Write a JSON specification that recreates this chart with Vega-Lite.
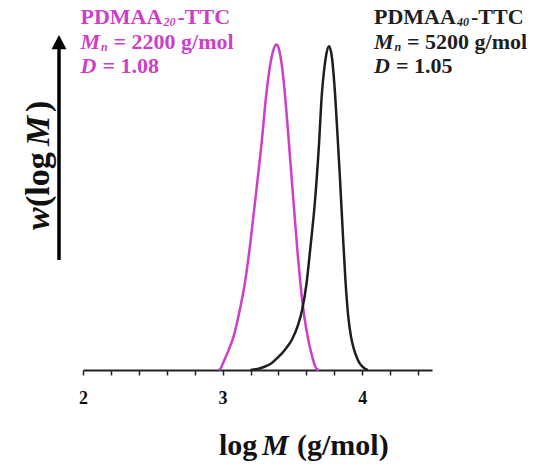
{
  "$schema": "https://vega.github.io/schema/vega-lite/v6.json",
  "autosize": {"type": "none"},
  "padding": {"left": 83, "top": 12, "right": 111, "bottom": 96},
  "width": 349,
  "height": 358,
  "background": "white",
  "config": {"view": {"stroke": null}, "axisX": {"labelOverlap": false}},
  "datasets": {
    "curves": [
      {"series": "PDMAA20", "logM": 2.975, "w": 0},
      {"series": "PDMAA20", "logM": 2.99, "w": 0.008},
      {"series": "PDMAA20", "logM": 3.00, "w": 0.018},
      {"series": "PDMAA20", "logM": 3.04, "w": 0.058},
      {"series": "PDMAA20", "logM": 3.08, "w": 0.105},
      {"series": "PDMAA20", "logM": 3.12, "w": 0.178},
      {"series": "PDMAA20", "logM": 3.16, "w": 0.268},
      {"series": "PDMAA20", "logM": 3.20, "w": 0.395},
      {"series": "PDMAA20", "logM": 3.24, "w": 0.545},
      {"series": "PDMAA20", "logM": 3.28, "w": 0.700},
      {"series": "PDMAA20", "logM": 3.31, "w": 0.835},
      {"series": "PDMAA20", "logM": 3.34, "w": 0.935},
      {"series": "PDMAA20", "logM": 3.365, "w": 0.985},
      {"series": "PDMAA20", "logM": 3.386, "w": 1.0},
      {"series": "PDMAA20", "logM": 3.40, "w": 0.991},
      {"series": "PDMAA20", "logM": 3.42, "w": 0.949},
      {"series": "PDMAA20", "logM": 3.44, "w": 0.876},
      {"series": "PDMAA20", "logM": 3.46, "w": 0.780},
      {"series": "PDMAA20", "logM": 3.48, "w": 0.670},
      {"series": "PDMAA20", "logM": 3.50, "w": 0.560},
      {"series": "PDMAA20", "logM": 3.52, "w": 0.452},
      {"series": "PDMAA20", "logM": 3.54, "w": 0.345},
      {"series": "PDMAA20", "logM": 3.56, "w": 0.255},
      {"series": "PDMAA20", "logM": 3.58, "w": 0.181},
      {"series": "PDMAA20", "logM": 3.60, "w": 0.125},
      {"series": "PDMAA20", "logM": 3.62, "w": 0.080},
      {"series": "PDMAA20", "logM": 3.64, "w": 0.045},
      {"series": "PDMAA20", "logM": 3.66, "w": 0.015},
      {"series": "PDMAA20", "logM": 3.675, "w": 0.003},
      {"series": "PDMAA20", "logM": 3.69, "w": 0},
      {"series": "PDMAA40", "logM": 3.20, "w": 0},
      {"series": "PDMAA40", "logM": 3.25, "w": 0.003},
      {"series": "PDMAA40", "logM": 3.30, "w": 0.010},
      {"series": "PDMAA40", "logM": 3.35, "w": 0.021},
      {"series": "PDMAA40", "logM": 3.40, "w": 0.040},
      {"series": "PDMAA40", "logM": 3.45, "w": 0.064},
      {"series": "PDMAA40", "logM": 3.50, "w": 0.096},
      {"series": "PDMAA40", "logM": 3.54, "w": 0.138},
      {"series": "PDMAA40", "logM": 3.57, "w": 0.185},
      {"series": "PDMAA40", "logM": 3.60, "w": 0.262},
      {"series": "PDMAA40", "logM": 3.63, "w": 0.381},
      {"series": "PDMAA40", "logM": 3.66, "w": 0.510},
      {"series": "PDMAA40", "logM": 3.69, "w": 0.690},
      {"series": "PDMAA40", "logM": 3.71, "w": 0.842},
      {"series": "PDMAA40", "logM": 3.73, "w": 0.932},
      {"series": "PDMAA40", "logM": 3.745, "w": 0.975},
      {"series": "PDMAA40", "logM": 3.762, "w": 0.995},
      {"series": "PDMAA40", "logM": 3.78, "w": 0.970},
      {"series": "PDMAA40", "logM": 3.80, "w": 0.882},
      {"series": "PDMAA40", "logM": 3.82, "w": 0.745},
      {"series": "PDMAA40", "logM": 3.84, "w": 0.595},
      {"series": "PDMAA40", "logM": 3.86, "w": 0.430},
      {"series": "PDMAA40", "logM": 3.88, "w": 0.275},
      {"series": "PDMAA40", "logM": 3.90, "w": 0.165},
      {"series": "PDMAA40", "logM": 3.92, "w": 0.102},
      {"series": "PDMAA40", "logM": 3.94, "w": 0.065},
      {"series": "PDMAA40", "logM": 3.96, "w": 0.040},
      {"series": "PDMAA40", "logM": 3.98, "w": 0.022},
      {"series": "PDMAA40", "logM": 4.00, "w": 0.011},
      {"series": "PDMAA40", "logM": 4.02, "w": 0.004},
      {"series": "PDMAA40", "logM": 4.04, "w": 0}
    ],
    "labelMain": [
      {"series": "PDMAA20", "logM": 1.9821, "w": 1.0632, "text": "PDMAA"},
      {"series": "PDMAA20", "logM": 2.6769, "w": 1.0632, "text": "-TTC"},
      {"series": "PDMAA20", "logM": 2.2185, "w": 0.9863, "text": "= 2200 g/mol"},
      {"series": "PDMAA20", "logM": 2.1397, "w": 0.9126, "text": "= 1.08"},
      {"series": "PDMAA40", "logM": 4.0845, "w": 1.0632, "text": "PDMAA"},
      {"series": "PDMAA40", "logM": 4.7793, "w": 1.0632, "text": "-TTC"},
      {"series": "PDMAA40", "logM": 4.3209, "w": 0.9863, "text": "= 5200 g/mol"},
      {"series": "PDMAA40", "logM": 4.2421, "w": 0.9126, "text": "= 1.05"}
    ],
    "labelItalic": [
      {"series": "PDMAA20", "logM": 1.9821, "w": 0.9863, "text": "M"},
      {"series": "PDMAA20", "logM": 1.9821, "w": 0.9126, "text": "D"},
      {"series": "PDMAA40", "logM": 4.0845, "w": 0.9863, "text": "M"},
      {"series": "PDMAA40", "logM": 4.0845, "w": 0.9126, "text": "D"}
    ],
    "labelSub": [
      {"series": "PDMAA20", "logM": 2.5766, "w": 1.0632, "text": "20"},
      {"series": "PDMAA20", "logM": 2.1289, "w": 0.9863, "text": "n"},
      {"series": "PDMAA40", "logM": 4.679, "w": 1.0632, "text": "40"},
      {"series": "PDMAA40", "logM": 4.2313, "w": 0.9863, "text": "n"}
    ],
    "xTitle": [
      {"logM": 2.9742, "w": -0.261, "text": "log", "style": "normal"},
      {"logM": 3.2822, "w": -0.261, "text": "M", "style": "italic"},
      {"logM": 3.5330, "w": -0.261, "text": "(g/mol)", "style": "normal"}
    ],
    "yTitle": [
      {"logM": 1.7564, "w": 0.430, "text": "w", "style": "italic"},
      {"logM": 1.7564, "w": 0.501, "text": "(log", "style": "normal"},
      {"logM": 1.7564, "w": 0.688, "text": "M", "style": "italic"},
      {"logM": 1.7564, "w": 0.7927, "text": ")", "style": "normal"}
    ],
    "arrow": [
      {"logM": 1.8281, "w": 0.338, "w2": 0.9955}
    ],
    "arrowHead": [
      {"logM": 1.8281, "w": 1.0063}
    ]
  },
  "encoding": {
    "x": {
      "field": "logM", "type": "quantitative",
      "scale": {"domain": [2, 4.5], "nice": false, "zero": false},
      "axis": {
        "values": [2, 2.2, 2.4, 2.6, 2.8, 3, 3.2, 3.4, 3.6, 3.8, 4, 4.2, 4.4],
        "labelExpr": "abs(datum.value - round(datum.value)) < 0.001 ? format(datum.value, 'd') : ''",
        "title": null,
        "grid": false,
        "domainColor": "#222222",
        "domainWidth": 2,
        "tickColor": "#222222",
        "tickWidth": 1.5,
        "tickSize": 5,
        "labelFont": "Liberation Serif",
        "labelFontWeight": "bold",
        "labelFontSize": 18,
        "labelColor": "#111111",
        "labelPadding": 14,
        "labelFlush": false,
        "labelOverlap": false
      }
    },
    "y": {
      "field": "w", "type": "quantitative",
      "scale": {"domain": [0, 1.1], "nice": false},
      "axis": null
    }
  },
  "layer": [
    {
      "data": {"name": "curves"},
      "mark": {"type": "line", "interpolate": "monotone", "strokeWidth": 2.5},
      "encoding": {
        "color": {
          "field": "series", "type": "nominal",
          "scale": {"domain": ["PDMAA20", "PDMAA40"], "range": ["#cc3fc9", "#1e1e1e"]},
          "legend": null
        },
        "detail": {"field": "series"}
      }
    },
    {
      "data": {"name": "arrow"},
      "mark": {"type": "rule", "strokeWidth": 3.5, "color": "#000000"},
      "encoding": {
        "y2": {"field": "w2"}
      }
    },
    {
      "data": {"name": "arrowHead"},
      "mark": {"type": "point", "shape": "M0,-1L1,0.9L-1,0.9Z", "size": 225, "filled": true, "color": "#000000", "opacity": 1}
    },
    {
      "data": {"name": "labelMain"},
      "mark": {"type": "text", "font": "Liberation Serif", "fontWeight": "bold", "fontSize": 22, "align": "left", "baseline": "alphabetic"},
      "encoding": {
        "text": {"field": "text"},
        "color": {"field": "series", "type": "nominal", "scale": {"domain": ["PDMAA20", "PDMAA40"], "range": ["#cc3fc9", "#1e1e1e"]}, "legend": null}
      }
    },
    {
      "data": {"name": "labelItalic"},
      "mark": {"type": "text", "font": "Liberation Serif", "fontWeight": "bold", "fontStyle": "italic", "fontSize": 22, "align": "left", "baseline": "alphabetic"},
      "encoding": {
        "text": {"field": "text"},
        "color": {"field": "series", "type": "nominal", "scale": {"domain": ["PDMAA20", "PDMAA40"], "range": ["#cc3fc9", "#1e1e1e"]}, "legend": null}
      }
    },
    {
      "data": {"name": "labelSub"},
      "mark": {"type": "text", "font": "Liberation Serif", "fontWeight": "bold", "fontStyle": "italic", "fontSize": 12, "align": "left", "baseline": "alphabetic", "dy": 2},
      "encoding": {
        "text": {"field": "text"},
        "color": {"field": "series", "type": "nominal", "scale": {"domain": ["PDMAA20", "PDMAA40"], "range": ["#cc3fc9", "#1e1e1e"]}, "legend": null}
      }
    },
    {
      "data": {"name": "xTitle"},
      "transform": [{"filter": "datum.style == 'normal'"}],
      "mark": {"type": "text", "font": "Liberation Serif", "fontWeight": "bold", "fontSize": 30, "align": "left", "baseline": "alphabetic", "color": "#111111"},
      "encoding": {
        "text": {"field": "text"}
      }
    },
    {
      "data": {"name": "xTitle"},
      "transform": [{"filter": "datum.style == 'italic'"}],
      "mark": {"type": "text", "font": "Liberation Serif", "fontWeight": "bold", "fontStyle": "italic", "fontSize": 30, "align": "left", "baseline": "alphabetic", "color": "#111111"},
      "encoding": {
        "text": {"field": "text"}
      }
    },
    {
      "data": {"name": "yTitle"},
      "transform": [{"filter": "datum.style == 'normal'"}],
      "mark": {"type": "text", "font": "Liberation Serif", "fontWeight": "bold", "fontSize": 34, "align": "left", "baseline": "alphabetic", "angle": 270, "color": "#111111"},
      "encoding": {
        "text": {"field": "text"}
      }
    },
    {
      "data": {"name": "yTitle"},
      "transform": [{"filter": "datum.style == 'italic'"}],
      "mark": {"type": "text", "font": "Liberation Serif", "fontWeight": "bold", "fontStyle": "italic", "fontSize": 34, "align": "left", "baseline": "alphabetic", "angle": 270, "color": "#111111"},
      "encoding": {
        "text": {"field": "text"}
      }
    }
  ]
}
